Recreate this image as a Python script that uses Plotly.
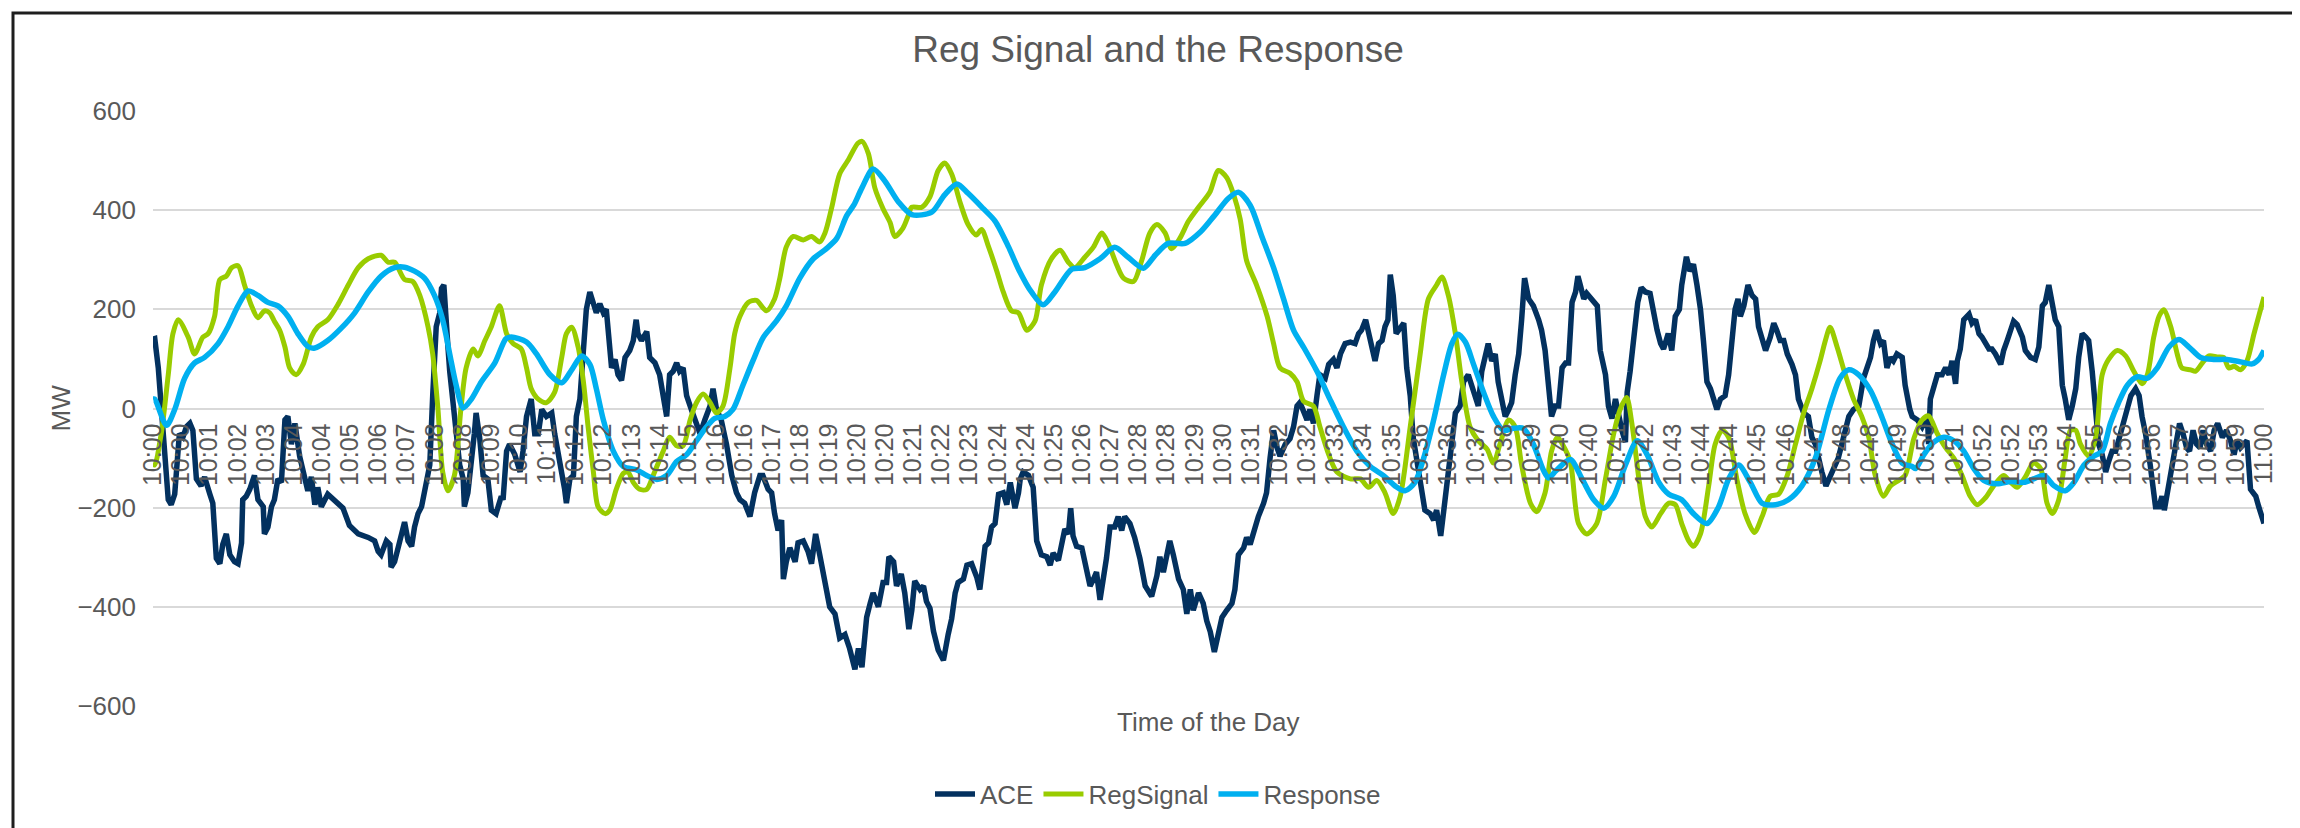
import pandas as pd
import plotly.graph_objects as go

# ---- data (seconds after 10:00:00, MW) ----
ACE_SEC = [0, 3, 9, 14, 20, 26, 31, 37, 45, 51, 57, 63, 68, 74, 82, 88, 97, 102, 108, 114, 119, 125, 131, 139, 145, 151, 153, 159, 165, 173, 179, 188, 190, 196, 202, 207, 213, 219, 225, 230, 236, 242, 250, 259, 264, 270, 276, 281, 287, 298, 313, 324, 335, 350, 367, 378, 384, 389, 398, 404, 406, 412, 418, 424, 429, 435, 441, 446, 452, 458, 463, 472, 477, 483, 489, 492, 496, 500, 503, 506, 512, 517, 523, 529, 531, 537, 543, 548, 551, 557, 563, 571, 577, 585, 594,
           597, 603, 608, 617, 626, 631, 637, 645, 651, 657, 663, 671, 680, 685, 694, 702, 705, 711, 717, 722, 728, 734, 739, 745, 751, 756, 762, 768, 773, 782, 788, 793, 799, 805, 813, 819, 824, 827, 833, 842, 847, 856, 864, 870, 876, 881, 887, 893, 898, 904, 910, 918, 927, 933, 941, 950, 955, 961, 969, 978, 987, 995, 1001, 1009, 1018, 1026, 1035, 1040, 1049, 1055, 1060, 1066, 1072, 1075, 1080, 1086, 1095, 1100, 1109, 1117, 1123, 1130, 1137, 1146, 1154, 1163, 1171, 1180, 1188, 1197,
           1203, 1209, 1217, 1223, 1228, 1237, 1245, 1251, 1255, 1263, 1268, 1276, 1282, 1289, 1294, 1299, 1308, 1314, 1319, 1325, 1331, 1339, 1348, 1356, 1362, 1368, 1373, 1382, 1388, 1396, 1405, 1410, 1416, 1419, 1425, 1430, 1436, 1442, 1450, 1456, 1462, 1470, 1476, 1479, 1484, 1493, 1501, 1507, 1515, 1524, 1530, 1535, 1544, 1550, 1555, 1561, 1565, 1569, 1575, 1584, 1589, 1598, 1604, 1609, 1615, 1621, 1626, 1632, 1640, 1646, 1652, 1657, 1666, 1674, 1683, 1692, 1703, 1712, 1717, 1723, 1729, 1734, 1740, 1749, 1757, 1763, 1769, 1774, 1783, 1791,
           1797, 1803, 1810, 1817, 1823, 1831, 1840, 1845, 1851, 1860, 1865, 1871, 1877, 1885, 1894, 1899, 1905, 1911, 1917, 1922, 1931, 1939, 1945, 1951, 1956, 1962, 1968, 1973, 1979, 1985, 1990, 1999, 2005, 2013, 2019, 2025, 2033, 2042, 2050, 2056, 2061, 2068, 2073, 2079, 2084, 2090, 2096, 2101, 2106, 2110, 2115, 2120, 2127, 2133, 2138, 2144, 2149, 2155, 2164, 2169, 2178, 2184, 2189, 2196, 2202, 2209, 2215, 2221, 2229, 2235, 2243, 2249, 2255, 2260, 2266, 2272, 2277, 2283, 2289, 2294, 2300, 2306, 2312, 2317, 2323, 2329, 2334, 2339, 2346, 2354, 2363, 2368, 2374, 2380, 2385, 2391,
           2397, 2403, 2409, 2414, 2420, 2426, 2430, 2434, 2440, 2445, 2454, 2463, 2468, 2477, 2482, 2488, 2494, 2500, 2505, 2511, 2514, 2519, 2525, 2532, 2538, 2545, 2553, 2559, 2565, 2571, 2576, 2584, 2590, 2596, 2603, 2607, 2615, 2621, 2627, 2633, 2639, 2644, 2650, 2656, 2661, 2667, 2673, 2681, 2687, 2693, 2698, 2703, 2707, 2713, 2720, 2727, 2733, 2738, 2744, 2750, 2758, 2764, 2769, 2775, 2781, 2787, 2795, 2801, 2806, 2815, 2823, 2829, 2835, 2840, 2846, 2853, 2860, 2866, 2874, 2883, 2892, 2900, 2909, 2917, 2923, 2929, 2934, 2939, 2946, 2951, 2957, 2963, 2968, 2974, 2983, 2988,
           2996, 3000, 3009, 3017, 3026, 3028, 3031, 3037, 3043, 3051, 3057, 3063, 3068, 3074, 3077, 3082, 3088, 3097, 3102, 3108, 3114, 3119, 3125, 3131, 3136, 3142, 3151, 3156, 3162, 3168, 3173, 3179, 3188, 3193, 3202, 3210, 3216, 3222, 3227, 3233, 3239, 3244, 3250, 3256, 3261, 3267, 3273, 3279, 3284, 3290, 3296, 3301, 3307, 3313, 3318, 3324, 3330, 3335, 3341, 3347, 3355, 3361, 3367, 3373, 3381, 3387, 3392, 3398, 3406, 3415, 3421, 3426, 3430, 3438, 3443, 3449, 3456, 3462, 3468, 3473, 3479, 3485, 3491, 3496, 3502, 3509, 3515, 3521, 3529, 3536, 3543, 3549, 3554, 3560, 3566, 3571, 3577, 3586, 3591, 3600]
ACE_MW = [140, 141, 82, 12, -72, -184, -194, -173, -51, -58, -37, -30, -44, -142, -156, -138, -173, -191, -302, -313, -274, -253, -295, -309, -313, -271, -184, -177, -163, -135, -184, -198, -253, -239, -198, -184, -142, -149, -23, -16, -72, -30, -96, -142, -166, -138, -194, -159, -198, -173, -191, -201, -236, -253, -260, -267, -288, -295, -267, -274, -320, -309, -281, -246, -229, -267, -278, -239, -212, -198, -163, -114, 26, 165, 193, 242, 249, 193, 124, 75, -2, -65, -114, -142, -198, -170, -114, -51, -9, -58, -135, -142, -205, -212, -177,
          -184, -86, -72, -93, -128, -86, -16, 19, -51, -51, -2, -16, -9, -51, -107, -163, -191, -142, -135, -16, 19, 103, 200, 235, 214, 193, 211, 193, 200, 82, 99, 68, 57, 103, 117, 137, 179, 151, 137, 155, 103, 92, 68, 26, -16, 68, 75, 92, 75, 82, 26, -2, -30, -51, -23, 5, 40, -2, -23, -72, -135, -170, -184, -191, -218, -170, -135, -135, -163, -170, -212, -246, -225, -344, -309, -281, -309, -271, -267, -288, -313, -253, -295, -344, -400, -414, -463, -456, -484, -526,
          -484, -522, -421, -393, -372, -400, -351, -351, -299, -309, -358, -334, -372, -445, -407, -348, -365, -358, -389, -403, -449, -487, -508, -456, -424, -372, -351, -344, -316, -313, -341, -365, -316, -278, -271, -239, -232, -173, -170, -194, -149, -201, -170, -142, -128, -135, -159, -267, -295, -299, -316, -292, -306, -264, -243, -253, -201, -257, -278, -281, -309, -358, -344, -330, -386, -344, -302, -239, -239, -218, -246, -218, -232, -260, -302, -358, -379, -337, -299, -330, -295, -267, -295, -344, -365, -414, -365, -407, -372, -393,
          -428, -450, -491, -456, -421, -407, -393, -365, -295, -281, -260, -274, -246, -218, -191, -170, -100, -44, -79, -96, -72, -61, -37, 5, 12, -9, -23, -2, -30, 26, 68, 61, 89, 99, 82, 110, 131, 134, 131, 151, 158, 179, 151, 124, 96, 131, 137, 165, 179, 270, 228, 151, 165, 172, 82, 26, -58, -107, -163, -205, -212, -225, -205, -257, -198, -135, -65, -9, 5, 54, 68, 47, 19, 5, 75, 103, 131, 96, 110, 54, 12, -16, -2, 12, 68, 110, 179, 263, 221, 207, 179, 158, 117, 26, -16, 5,
          5, 82, 92, 92, 214, 235, 267, 249, 221, 232, 221, 207, 117, 68, 5, -20, 19, -23, -44, -68, 33, 75, 144, 214, 244, 235, 232, 193, 158, 131, 120, 151, 117, 186, 200, 249, 306, 277, 291, 249, 200, 137, 54, 40, 19, -2, 19, 26, 68, 137, 200, 221, 186, 207, 249, 228, 221, 165, 137, 117, 144, 172, 158, 137, 137, 110, 89, 68, 19, -9, -16, -58, -72, -100, -128, -156, -135, -117, -100, -58, -16, -2, 5, 61, 82, 103, 137, 158, 131, 137, 82, 103, 96, 110, 103, 47,
          -2, -16, -23, -37, -16, -72, 19, 40, 68, 68, 82, 68, 96, 50, 96, 120, 179, 190, 172, 179, 151, 144, 131, 120, 120, 110, 89, 117, 137, 155, 176, 169, 144, 117, 103, 99, 124, 207, 214, 249, 207, 179, 165, 47, 19, -23, 5, 40, 103, 151, 144, 137, 75, -23, -72, -93, -128, -107, -86, -86, -51, -23, 5, 26, 40, 26, -16, -51, -114, -198, -198, -177, -205, -149, -114, -79, -30, -51, -79, -86, -44, -72, -79, -44, -72, -86, -44, -30, -58, -44, -65, -93, -65, -79, -72, -65, -163, -177, -198, -232]

REG_SEC = [0, 3, 14, 26, 34, 43, 60, 71, 85, 94, 105, 114, 125, 134, 145, 156, 168, 179, 190, 199, 207, 216, 225, 233, 244, 256, 270, 281, 298, 316, 333, 350, 367, 389, 401, 412, 429, 443, 455, 469, 477, 486, 494, 503, 514, 525, 534, 546, 554, 566, 577, 591, 603, 614, 628, 637, 645, 657, 671, 685, 697, 705, 714, 725, 734, 742, 751, 759, 771, 779, 790, 802, 810, 819, 830, 842, 853, 870, 881, 893, 904, 916, 927, 938, 950, 961, 972, 984, 992, 1001, 1015, 1029, 1046, 1060, 1069, 1080, 1092, 1109, 1123, 1137, 1146, 1157, 1171, 1185, 1202, 1209, 1220, 1231, 1245, 1257, 1265, 1279, 1288, 1294, 1311, 1325, 1339, 1350, 1362, 1376, 1390, 1404, 1413, 1425, 1439, 1450, 1464, 1476, 1490, 1504, 1515, 1532, 1547, 1561, 1572, 1589, 1604, 1618, 1629, 1643, 1655, 1672, 1686, 1700, 1712, 1726, 1737, 1751, 1766, 1783, 1797, 1803, 1817, 1831, 1843, 1854, 1865, 1882, 1900, 1911, 1922, 1939, 1951, 1962, 1979, 1990, 2005, 2019, 2042, 2059, 2073, 2087, 2101, 2115, 2127, 2144, 2161, 2175, 2189, 2198, 2209, 2221, 2232, 2246, 2260, 2275, 2286, 2297, 2312, 2323, 2334, 2349, 2360, 2374, 2385, 2395, 2405, 2417, 2431, 2445, 2462, 2477, 2491, 2502, 2513, 2522, 2534, 2545, 2556, 2571, 2585, 2596, 2607, 2619, 2627, 2639, 2653, 2664, 2676, 2687, 2701, 2715, 2731, 2744, 2758, 2772, 2787, 2801, 2815, 2829, 2843, 2852, 2860, 2872, 2886, 2900, 2914, 2926, 2937, 2951, 2963, 2977, 2988, 3003, 3017, 3028, 3043, 3057, 3071, 3085, 3099, 3111, 3125, 3139, 3156, 3168, 3179, 3193, 3207, 3219, 3230, 3239, 3250, 3261, 3270, 3279, 3287, 3301, 3313, 3324, 3335, 3350, 3364, 3378, 3392, 3401, 3412, 3421, 3429, 3441, 3452, 3460, 3475, 3483, 3495, 3506, 3520, 3531, 3540, 3549, 3560, 3571, 3583, 3591, 3600]
REG_MW = [-110, -114, -51, 68, 151, 179, 144, 110, 144, 151, 186, 260, 267, 284, 288, 249, 207, 183, 197, 193, 176, 158, 124, 82, 68, 89, 144, 165, 179, 211, 249, 284, 302, 309, 295, 295, 260, 256, 228, 165, 110, -2, -128, -166, -135, -2, 82, 120, 106, 137, 165, 207, 151, 131, 120, 82, 40, 19, 12, 33, 103, 151, 164, 124, 54, -37, -128, -198, -212, -205, -163, -131, -128, -149, -163, -163, -135, -86, -58, -75, -75, -23, 12, 29, 12, -9, 5, 82, 151, 186, 214, 218, 197, 221, 263, 326, 347, 340, 347, 336, 354, 403, 473, 500, 535, 539, 514, 445, 403, 375, 347, 364, 389, 406, 406, 427, 480, 495, 473, 417, 371, 350, 361, 326, 277, 235, 197, 193, 158, 176, 249, 302, 319, 295, 284, 305, 326, 354, 333, 291, 263, 256, 298, 354, 371, 354, 322, 343, 378, 406, 427, 438, 480, 466, 431, 382, 298, 249, 186, 131, 82, 71, 54, 15, 5, -37, -93, -128, -142, -142, -159, -145, -170, -212, -177, -37, 110, 221, 249, 265, 228, 151, 54, -37, -65, -82, -110, -72, -23, -37, -114, -191, -208, -170, -86, -58, -75, -107, -232, -253, -232, -142, -51, -2, 22, -30, -142, -218, -239, -212, -191, -194, -232, -267, -278, -253, -156, -72, -44, -58, -142, -212, -250, -218, -177, -173, -135, -72, -9, 40, 96, 137, 164, 124, 68, 19, -16, -58, -135, -177, -156, -145, -135, -60, -23, -15, -51, -79, -100, -135, -177, -194, -180, -156, -135, -149, -159, -138, -110, -121, -191, -212, -184, -100, -44, -44, -72, -96, -58, 68, 99, 117, 106, 75, 50, 68, 144, 186, 199, 165, 110, 82, 78, 75, 92, 106, 104, 103, 82, 85, 78, 96, 151, 186, 225]

RESP_SEC = [0, 3, 23, 37, 54, 71, 88, 111, 128, 145, 162, 179, 196, 213, 230, 247, 264, 276, 298, 321, 344, 367, 389, 412, 429, 446, 463, 480, 494, 506, 517, 529, 543, 560, 583, 602, 611, 637, 654, 677, 697, 714, 731, 745, 756, 768, 785, 802, 825, 842, 859, 876, 893, 910, 927, 944, 958, 975, 989, 1006, 1023, 1041, 1063, 1080, 1103, 1126, 1148, 1166, 1183, 1195, 1209, 1228, 1248, 1271, 1294, 1328, 1350, 1371, 1390, 1416, 1436, 1459, 1476, 1498, 1518, 1538, 1567, 1589, 1615, 1640, 1663, 1689, 1709, 1731, 1760, 1787, 1810, 1834, 1851, 1871, 1891, 1911, 1928, 1945, 1962, 1985, 2007, 2030, 2053, 2076, 2098, 2118, 2135, 2152, 2167, 2184, 2201, 2215, 2225, 2238, 2252, 2269, 2286, 2303, 2320, 2337, 2354, 2371, 2380, 2393, 2417, 2437, 2457, 2474, 2491, 2511, 2531, 2548, 2568, 2585, 2607, 2627, 2650, 2670, 2687, 2704, 2724, 2744, 2767, 2789, 2812, 2835, 2858, 2877, 2892, 2909, 2929, 2948, 2966, 2983, 3000, 3006, 3020, 3037, 3054, 3071, 3088, 3105, 3122, 3145, 3168, 3190, 3207, 3225, 3242, 3261, 3276, 3293, 3310, 3324, 3338, 3352, 3367, 3384, 3401, 3418, 3438, 3455, 3472, 3492, 3514, 3537, 3560, 3580, 3591, 3600]
RESP_MW = [19, 19, -34, -2, 61, 92, 103, 131, 165, 207, 237, 228, 214, 207, 186, 151, 125, 122, 137, 162, 193, 235, 267, 284, 285, 277, 263, 228, 179, 110, 47, 1, 19, 54, 92, 141, 144, 134, 110, 68, 52, 78, 106, 89, 40, -23, -86, -117, -124, -135, -143, -135, -107, -93, -65, -37, -20, -16, -2, 47, 96, 144, 176, 207, 263, 302, 322, 343, 389, 410, 445, 483, 459, 417, 391, 396, 431, 453, 434, 403, 378, 326, 281, 235, 209, 235, 281, 284, 302, 325, 305, 283, 309, 333, 333, 357, 389, 424, 436, 410, 347, 284, 221, 158, 124, 75, 19, -37, -86, -117, -135, -156, -166, -149, -100, -23, 68, 131, 150, 134, 89, 33, -16, -44, -40, -40, -72, -124, -140, -125, -103, -142, -184, -201, -177, -114, -65, -93, -149, -173, -184, -212, -232, -198, -142, -114, -149, -191, -194, -184, -156, -100, -2, 61, 78, 68, 36, -16, -72, -110, -117, -121, -93, -68, -58, -65, -86, -121, -145, -152, -147, -149, -142, -135, -156, -166, -149, -114, -96, -86, -30, 12, 47, 64, 61, 82, 124, 139, 124, 103, 99, 99, 94, 90, 99, 117]

SERIES_NAMES = ["ACE", "RegSignal", "Response"]
SERIES_COLORS = ["#03315F", "#99CC00", "#00B0F0"]

BASE = pd.Timestamp("2024-01-01 10:00:00")
END = pd.Timestamp("2024-01-01 11:00:00")


def to_time(secs):
    return BASE + pd.to_timedelta(secs, unit="s")


FONT = "Liberation Sans, Arial, sans-serif"
GRAY = "#595959"

fig = go.Figure()
fig.add_trace(go.Scatter(x=to_time(ACE_SEC), y=ACE_MW, name=SERIES_NAMES[0], mode="lines",
                         line=dict(color=SERIES_COLORS[0], width=5.5)))
fig.add_trace(go.Scatter(x=to_time(REG_SEC), y=REG_MW, name=SERIES_NAMES[1], mode="lines",
                         line=dict(color=SERIES_COLORS[1], width=5, shape="spline", smoothing=0.8)))
fig.add_trace(go.Scatter(x=to_time(RESP_SEC), y=RESP_MW, name=SERIES_NAMES[2], mode="lines",
                         line=dict(color=SERIES_COLORS[2], width=5.5, shape="spline", smoothing=0.8)))

L, R, T, B = 145, 44, 103, 130
W, H = 2300, 828
pw, ph = W - L - R, H - T - B


def px_x(x):
    return (x - L) / pw


def px_y(y):
    return (H - B - y) / ph


fig.update_layout(
    width=W, height=H,
    margin=dict(l=L, r=R, t=T, b=B, autoexpand=False),
    paper_bgcolor="white", plot_bgcolor="white",
    font=dict(family=FONT, color=GRAY),
    title=dict(text="Reg Signal and the Response", font=dict(size=37, color=GRAY, family=FONT),
               x=0.5, xref="container", xanchor="center",
               y=1 - 41 / H, yref="container", yanchor="middle"),
    showlegend=True,
    legend=dict(orientation="h", x=0.5, xref="container", xanchor="center",
                y=1 - 786 / H, yref="container", yanchor="middle", itemwidth=40,
                font=dict(size=26, color=GRAY, family=FONT), bgcolor="rgba(0,0,0,0)"),
    xaxis=dict(type="date", range=[BASE, END], tickmode="linear", tick0=BASE, dtick=48000,
               tickformat="%H:%M", tickangle=-90, tickfont=dict(size=25, color=GRAY, family=FONT),
               showgrid=False, zeroline=False, showline=False, ticks="",
               anchor="free", position=0.5, automargin=False, ticklabelstandoff=9),
    yaxis=dict(range=[-600, 600], tickmode="linear", tick0=-600, dtick=200,
               tickfont=dict(size=26, color=GRAY, family=FONT),
               showgrid=True, gridcolor="#D9D9D9", gridwidth=2, zeroline=False,
               showline=False, ticks="", automargin=False, ticklabelstandoff=16),
    annotations=[
        dict(text="Time of the Day", x=0.5, xref="paper", y=px_y(714), yref="paper",
             xanchor="center", yanchor="middle", showarrow=False,
             font=dict(size=26, color=GRAY, family=FONT)),
        dict(text="MW", x=px_x(52), xref="paper", y=0.5, yref="paper", textangle=-90,
             xanchor="center", yanchor="middle", showarrow=False,
             font=dict(size=26, color=GRAY, family=FONT)),
    ],
    shapes=[dict(type="rect", xref="paper", yref="paper", x0=px_x(5), x1=px_x(2287),
                 y0=px_y(835), y1=px_y(5), line=dict(color="#1E1E1E", width=3),
                 fillcolor="rgba(0,0,0,0)", layer="below")],
)

fig.write_html("out.html")
